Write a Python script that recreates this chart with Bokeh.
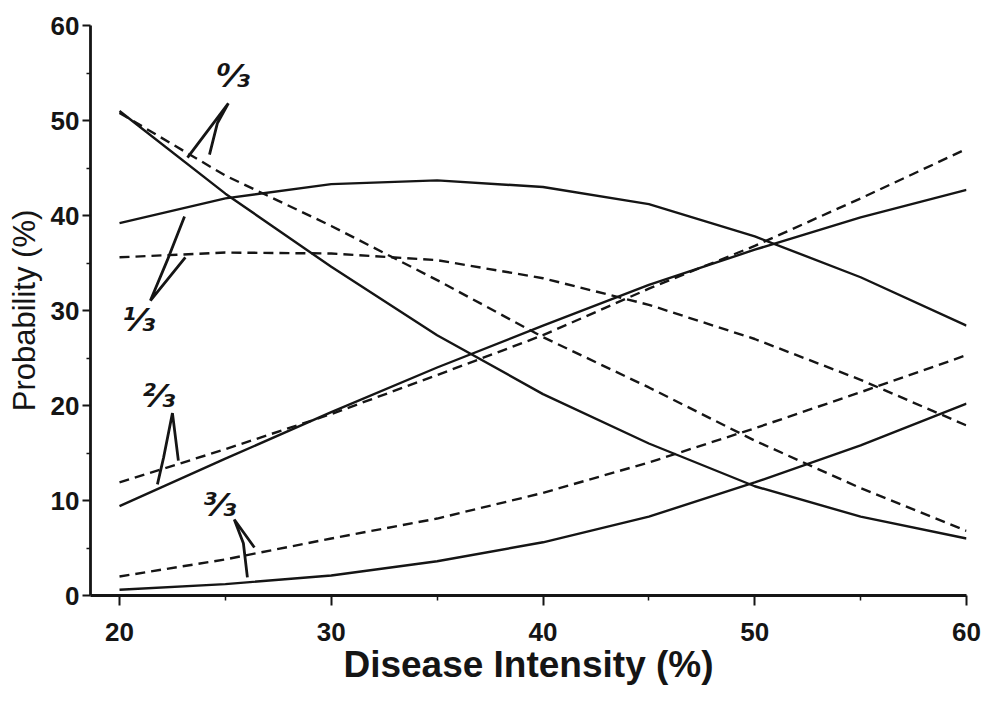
from bokeh.plotting import figure
from bokeh.models import Range1d, FixedTicker, ColumnDataSource
from bokeh.core.properties import value
from bokeh.embed import file_html
from bokeh.resources import INLINE

# ---- data ----
intensity = [20, 25, 30, 35, 40, 45, 50, 55, 60]

p0_solid = [51.0, 42.3, 34.6, 27.4, 21.2, 16.0, 11.5, 8.3, 6.0]
p0_dashed = [50.8, 44.2, 38.9, 33.2, 27.2, 21.9, 16.3, 11.3, 6.8]
p1_solid = [39.2, 41.8, 43.3, 43.7, 43.0, 41.2, 37.8, 33.5, 28.4]
p1_dashed = [35.6, 36.1, 36.0, 35.3, 33.4, 30.6, 27.0, 22.7, 17.9]
p2_solid = [9.4, 14.4, 19.3, 24.0, 28.4, 32.7, 36.4, 39.8, 42.7]
p2_dashed = [11.9, 15.4, 19.1, 23.2, 27.4, 32.3, 36.8, 41.8, 47.0]
p3_solid = [0.6, 1.2, 2.1, 3.6, 5.6, 8.3, 11.9, 15.8, 20.2]
p3_dashed = [2.0, 3.8, 6.0, 8.1, 10.8, 14.0, 17.6, 21.4, 25.3]

x_ticks = [20, 30, 40, 50, 60]
x_minor = [25, 35, 45, 55]
y_ticks = [0, 10, 20, 30, 40, 50, 60]
y_minor = [5, 15, 25, 35, 45, 55]

# curve annotations: labels and hand-drawn pointers
label_text = ["\u2070\u2044\u2083", "\u00b9\u2044\u2083", "\u00b2\u2044\u2083", "\u00b3\u2044\u2083"]
label_x = [25.38, 20.90, 21.84, 24.72]
label_y = [54.7, 29.0, 21.0, 9.5]

pointer_xs = [
    [23.21, 25.14, 24.62, 24.25],
    [23.11, 21.46, 22.26, 23.07],
    [22.78, 22.50, 22.08, 21.79],
    [26.37, 25.42, 25.85, 26.04],
]
pointer_ys = [
    [46.1, 51.8, 49.7, 46.4],
    [35.6, 31.05, 35.3, 39.9],
    [14.2, 19.2, 14.5, 11.7],
    [5.05, 8.0, 5.5, 1.9],
]

# ---- figure ----
p = figure(width=981, height=700, output_backend="svg", toolbar_location=None,
           x_range=Range1d(18.63, 60), y_range=Range1d(0, 60),
           min_border_left=90, min_border_right=15, min_border_top=25,
           min_border_bottom=105)
p.background_fill_color = "white"
p.border_fill_color = "white"
p.outline_line_color = None
p.grid.visible = False

ink = "#151515"
series = [
    (p0_solid, "solid"), (p0_dashed, "10 6"),
    (p1_solid, "solid"), (p1_dashed, "10 6"),
    (p2_solid, "solid"), (p2_dashed, "10 6"),
    (p3_solid, "solid"), (p3_dashed, "10 6"),
]
for ys, dash in series:
    p.line(intensity, ys, line_color=ink, line_width=2.4, line_dash=dash)

p.multi_line(xs=pointer_xs, ys=pointer_ys, line_color=ink, line_width=2.8)

src = ColumnDataSource(dict(x=label_x, y=label_y, t=label_text))
p.text(x="x", y="y", text="t", source=src, text_font=value("DejaVu Sans"),
       text_font_size="32px", text_font_style="bold italic", text_color=ink,
       text_align="center", text_baseline="middle")

# ---- axes ----
for ax in (p.xaxis[0], p.yaxis[0]):
    ax.axis_line_width = 2.8
    ax.axis_line_color = ink
    ax.major_tick_line_color = ink
    ax.major_tick_line_width = 2
    ax.minor_tick_line_color = ink
    ax.minor_tick_line_width = 1.5
    ax.major_tick_in = 0
    ax.minor_tick_in = 0
    ax.major_label_text_font = "Liberation Sans"
    ax.major_label_text_font_style = "bold"
    ax.major_label_text_font_size = "26px"
    ax.major_label_text_color = ink
    ax.axis_label_text_color = ink
    ax.axis_label_text_font = "Liberation Sans"

p.xaxis.ticker = FixedTicker(ticks=x_ticks, minor_ticks=x_minor)
p.yaxis.ticker = FixedTicker(ticks=y_ticks, minor_ticks=y_minor)

p.xaxis.major_tick_out = 10
p.xaxis.minor_tick_out = 5
p.xaxis.major_label_standoff = 17
p.xaxis.axis_label = "Disease Intensity (%)"
p.xaxis.axis_label_text_font_size = "37px"
p.xaxis.axis_label_text_font_style = "bold"
p.xaxis.axis_label_standoff = 0

p.yaxis.major_tick_out = 8
p.yaxis.minor_tick_out = 4
p.yaxis.major_label_standoff = 3
p.yaxis.axis_label = "Probability (%)"
p.yaxis.axis_label_text_font_size = "31px"
p.yaxis.axis_label_text_font_style = "normal"
p.yaxis.axis_label_standoff = 6

open("out.html", "w").write(file_html(p, INLINE))
